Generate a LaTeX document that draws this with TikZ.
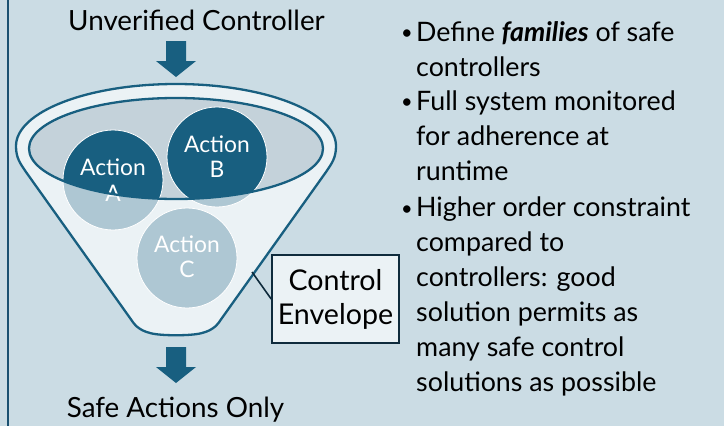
\documentclass[tikz,border=0pt]{standalone}
\usepackage{fontspec}
\setmainfont{Lato}
\definecolor{panelbg}{RGB}{203,220,228}
\definecolor{deepblue}{RGB}{24,95,128}
\definecolor{funnelfill}{RGB}{235,242,245}
\definecolor{bowlfill}{RGB}{196,210,218}
\definecolor{softblue}{RGB}{174,199,211}
\definecolor{navy}{RGB}{15,43,60}
\definecolor{edgeblue}{RGB}{26,80,112}
\tikzset{
  bigtext/.style={font=\fontsize{27.8}{30}\selectfont, text=black, inner sep=0pt},
  bullettext/.style={font=\fontsize{26.8}{35.1}\selectfont, text=black, inner sep=0pt, align=left},
  bulletdot/.style={font=\fontsize{20}{24}\selectfont, text=black, inner sep=0pt},
  actcircle/.style={circle, draw=white, line width=0.8pt, minimum size=100pt, inner sep=0pt},
  actlabel/.style={font=\fontsize{22.8}{25}\selectfont, text=white, inner sep=0pt},
  envbox/.style={draw=navy, line width=1.6pt, fill=funnelfill, minimum width=127pt,
    minimum height=88pt, inner sep=0pt, align=center,
    font=\fontsize{28.6}{34}\selectfont},
  connector/.style={draw=navy, line width=1.6pt},
  pics/blockarrow/.style={code={
    \fill[deepblue] (-10,0) -- (10,0) -- (10,20) -- (20,20) -- (0,36) -- (-20,20) -- (-10,20) -- cycle;
  }}
}
\begin{document}
\begin{tikzpicture}[x=1pt,y=-1pt]
\useasboundingbox (0,0) rectangle (724,426);
\fill[panelbg] (0,0) rectangle (724,426);
\draw[edgeblue, line width=1.8pt] (8,-2) -- (8,428);

% funnel body
\filldraw[fill=funnelfill, draw=deepblue, line width=2.3pt]
  (16,146) .. controls (16,158) and (20,163) .. (26,172)
  -- (130,318) .. controls (134,324) and (138,330) .. (150,333)
  .. controls (160,336) and (192,336) .. (202,333)
  .. controls (214,330) and (218,324) .. (222,318)
  -- (326,172) .. controls (332,163) and (336,158) .. (336,146)
  arc[start angle=0, end angle=180, x radius=160pt, y radius=62pt] -- cycle;

% bowl of the funnel
\fill[bowlfill] (176,148.5) ellipse [x radius=147pt, y radius=50.5pt];

% action sets
\coordinate (cA) at (113,180);
\coordinate (cB) at (217,157);
\coordinate (cC) at (187,258);
\fill[softblue] (cA) circle[radius=50pt] (cB) circle[radius=50pt] (cC) circle[radius=50pt];
\begin{scope}
  \clip (176,148.5) ellipse [x radius=147pt, y radius=50.5pt];
  \fill[deepblue] (cA) circle[radius=50pt] (cB) circle[radius=50pt];
\end{scope}
\node[actcircle] (A) at (cA) {};
\node[actcircle] (B) at (cB) {};
\node[actcircle] (C) at (cC) {};
\node[actlabel, anchor=base] (A1) at (113,175) {Action};
\node[actlabel, anchor=base] (A2) at (113,201) {A};
\node[actlabel, anchor=base] (B1) at (217,152) {Action};
\node[actlabel, anchor=base] (B2) at (217,177) {B};
\node[actlabel, anchor=base] (C1) at (187,252) {Action};
\node[actlabel, anchor=base] (C2) at (187,277) {C};

\draw[deepblue, line width=2.3pt] (176,148.5) ellipse [x radius=147pt, y radius=50.5pt];

% flow arrows
\pic at (176,41) {blockarrow};
\pic at (176,347) {blockarrow};

\node[bigtext, anchor=base] (title) at (196.5,30) {Unverified Controller};
\node[bigtext, anchor=base] (safe) at (175.5,417) {Safe Actions Only};

% envelope label
\node[envbox] (env) at (335.5,299) {Control\\Envelope};
\coordinate (tap) at (252,272);
\draw[connector] (tap) -- (env.west);

% bullet list (node base = baseline of the last line)
\node[bulletdot, anchor=base west] (d1) at (401,39) {•};
\node[bulletdot, anchor=base west] (d2) at (401,108) {•};
\node[bulletdot, anchor=base west] (d3) at (401,215) {•};
\node[bullettext, anchor=base west] (b1) at (416,76.1) {Define \textbf{\textit{families}} of safe\\controllers};
\node[bullettext, anchor=base west] (b2) at (416,180.2) {Full system monitored\\for adherence at\\runtime};
\node[bullettext, anchor=base west] (b3) at (416,391.5) {Higher order constraint\\compared to\\controllers: good\\solution permits as\\many safe control\\solutions as possible};
\end{tikzpicture}
\end{document}
